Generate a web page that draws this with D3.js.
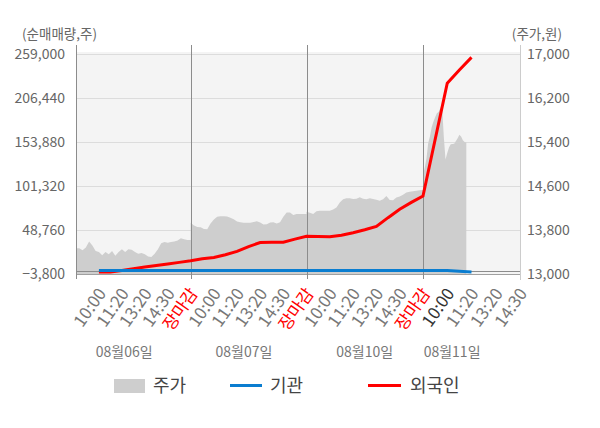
<!DOCTYPE html>
<html>
<head>
<meta charset="utf-8">
<script src="https://cdn.jsdelivr.net/npm/d3@7"></script>
<style>
  body { margin: 0; background: #fff; }
  svg { display: block; font-family: "Noto Sans CJK KR", "Noto Sans", sans-serif; }
</style>
</head>
<body>
<svg id="chart" width="600" height="428"></svg>
<script>
// ---- data ----
const days = ["08월06일", "08월07일", "08월10일", "08월11일"];
const tickTimes = ["10:00", "11:20", "13:20", "14:30", "장마감"];
const leftTicks = [-3800, 48760, 101320, 153880, 206440, 259000];
const rightTicks = [13000, 13800, 14600, 15400, 16200, 17000];

// 주가 (원), sampled evenly over each day
const price0806 = [13470, 13470, 13430, 13480, 13590, 13520, 13420, 13400, 13340, 13400,
  13360, 13420, 13330, 13400, 13450, 13400, 13450, 13440, 13400, 13370,
  13380, 13360, 13320, 13310, 13370, 13450, 13560, 13580, 13570, 13580,
  13590, 13610, 13650, 13630, 13620, 13620];
const price0807 = [13930, 13880, 13855, 13850, 13820, 13812, 13920, 13990, 14040, 14050,
  14050, 14045, 14025, 13995, 13955, 13940, 13930, 13930, 13930, 13945,
  13960, 13935, 13900, 13905, 13935, 13940, 13920, 13940, 14040, 14120,
  14120, 14075, 14090, 14090, 14090, 14090];
const price0810 = [14130, 14115, 14090, 14140, 14150, 14150, 14150, 14150, 14175, 14210,
  14300, 14360, 14376, 14376, 14365, 14370, 14394, 14370, 14360, 14376,
  14365, 14350, 14333, 14358, 14420, 14345, 14340, 14390, 14410, 14440,
  14480, 14497, 14505, 14515, 14525, 14527];
const price0811 = [14800, 14930, 15100, 15380, 15500, 15670, 15770, 15850, 15925, 15945,
  16020, 16070, 15500, 15080, 15200, 15300, 15358, 15365, 15370, 15420,
  15470, 15530, 15500, 15430, 15400, 15390];

// 순매매량 (주), cumulative, at axis slots (5 slots per day)
const flowSlots = [1, 1.5, 2, 2.5, 3, 3.5, 4, 4.5, 5,
  5.5, 6, 6.5, 7, 7.5, 8, 8.5, 9, 9.5, 10,
  10.5, 11, 11.5, 12, 12.5, 13, 13.5, 14, 14.5, 15,
  16, 16.5, 17];
const foreign = [-1400, -1400, 300, 2500, 4500, 6300, 8200, 10100, 12000,
  14300, 16000, 19200, 23300, 29000, 33700, 34100, 34100, 37800, 41300,
  40900, 40800, 42500, 45500, 49000, 53000, 63500, 73500, 81700, 89400,
  224000, 240000, 255000];
const institution = [500, 500, 500, 500, 500, 500, 500, 500, 500,
  500, 500, 500, 500, 500, 500, 500, 500, 500, 500,
  500, 500, 500, 500, 500, 500, 500, 500, 500, 500,
  500, -500, -1400];

// ---- layout ----
const svg = d3.select("#chart");
const pLeft = 76, pRight = 520, pTop = 54, pBottom = 274;

const x = d3.scaleLinear().domain([0, 5, 10, 15, 19]).range([pLeft, 190.7, 306.5, 423, pRight]);
const yL = d3.scaleLinear().domain([leftTicks[0], leftTicks[5]]).range([pBottom, pTop]);
const yR = d3.scaleLinear().domain([rightTicks[0], rightTicks[5]]).range([pBottom, pTop]);
const fmt = d3.format(",");

// build price points with slot positions
const pricePts = [];
[price0806, price0807, price0810].forEach((arr, d) => {
  arr.forEach((v, i) => pricePts.push([d * 5 + i * 5 / (arr.length - 1), v]));
});
price0811.forEach((v, i) => pricePts.push([15 + i / 14, v]));

// plot background
svg.append("rect")
  .attr("x", pLeft).attr("y", pTop - 2)
  .attr("width", pRight - pLeft).attr("height", pBottom - pTop + 2)
  .attr("fill", "#f4f4f4");

// horizontal grid
svg.append("g").selectAll("line")
  .data(leftTicks.slice(1))
  .join("line")
  .attr("x1", pLeft).attr("x2", pRight)
  .attr("y1", d => Math.round(yL(d)) + 0.5).attr("y2", d => Math.round(yL(d)) + 0.5)
  .attr("stroke", "#dcdcdc");

// price area
const area = d3.area()
  .x(d => x(d[0]))
  .y0(pBottom)
  .y1(d => yR(d[1]));
svg.append("path")
  .datum(pricePts)
  .attr("d", area)
  .attr("fill", "#cecece");

// zero line and bottom line
svg.append("line")
  .attr("x1", pLeft).attr("x2", pRight)
  .attr("y1", Math.round(yL(0)) + 0.5).attr("y2", Math.round(yL(0)) + 0.5)
  .attr("stroke", "#8c8c8c");
svg.append("line")
  .attr("x1", pLeft).attr("x2", pRight)
  .attr("y1", pBottom + 0.5).attr("y2", pBottom + 0.5)
  .attr("stroke", "#a0a0a0");

// day separators and left axis line
svg.append("g").selectAll("line")
  .data([0, 5, 10, 15])
  .join("line")
  .attr("x1", d => Math.round(x(d)) + 0.5).attr("x2", d => Math.round(x(d)) + 0.5)
  .attr("y1", 45).attr("y2", pBottom + 5)
  .attr("stroke", "#8c8c8c");
// right axis line
svg.append("line")
  .attr("x1", pRight + 0.5).attr("x2", pRight + 0.5)
  .attr("y1", 45).attr("y2", pBottom + 6)
  .attr("stroke", "#cccccc");

// series lines (기관 drawn over 외국인, as in the source)
const line = d3.line().x(d => x(d[0])).y(d => yL(d[1]));
svg.append("path")
  .datum(flowSlots.map((s, i) => [s, foreign[i]]))
  .attr("d", line)
  .attr("fill", "none")
  .attr("stroke", "#ff0000")
  .attr("stroke-width", 3);
svg.append("path")
  .datum(flowSlots.map((s, i) => [s, institution[i]]))
  .attr("d", line)
  .attr("fill", "none")
  .attr("stroke", "#0a7dd0")
  .attr("stroke-width", 3);

// left axis labels
const gL = svg.append("g")
  .attr("transform", `translate(${pLeft - 11},0)`)
  .call(d3.axisLeft(yL).tickValues(leftTicks).tickFormat(fmt).tickSize(0).tickPadding(0));
gL.select(".domain").remove();
gL.selectAll("text")
  .attr("font-size", 14).attr("fill", "#666")
  .attr("font-family", "'Noto Sans CJK KR', sans-serif");

// right axis labels
const gR = svg.append("g")
  .attr("transform", `translate(${pRight + 7},0)`)
  .call(d3.axisRight(yR).tickValues(rightTicks).tickFormat(fmt).tickSize(0).tickPadding(0));
gR.select(".domain").remove();
gR.selectAll("text")
  .attr("font-size", 14).attr("fill", "#666")
  .attr("font-family", "'Noto Sans CJK KR', sans-serif");

// axis titles
svg.append("text")
  .attr("x", 22).attr("y", 39)
  .attr("font-size", 13.5).attr("fill", "#666")
  .text("(순매매량,주)");
svg.append("text")
  .attr("x", 562).attr("y", 39)
  .attr("text-anchor", "end")
  .attr("font-size", 13.5).attr("fill", "#666")
  .text("(주가,원)");

// x tick labels
const xLabels = [];
days.forEach((dname, d) => {
  const n = d === days.length - 1 ? 4 : 5;
  for (let k = 1; k <= n; k++) xLabels.push({ slot: d * 5 + k, text: tickTimes[k - 1], day: d, k });
});
svg.append("g").selectAll("text")
  .data(xLabels)
  .join("text")
  .attr("transform", d => `translate(${x(d.slot) + 3},290) rotate(-55)`)
  .attr("text-anchor", "end")
  .attr("dy", "0.35em")
  .attr("font-size", 17)
  .attr("fill", d => d.k === 5 ? "#ff0000" : (d.day === 3 && d.k === 1 ? "#333" : "#777"))
  .text(d => d.text);

// date labels
const dayCenters = [2.1, 7.3, 12.5, 16.2];
svg.append("g").selectAll("text")
  .data(days)
  .join("text")
  .attr("x", (d, i) => x(dayCenters[i]))
  .attr("y", 357)
  .attr("text-anchor", "middle")
  .attr("font-size", 14)
  .attr("fill", "#777")
  .text(d => d);

// legend
const lg = svg.append("g").attr("font-size", 18).attr("fill", "#444");
lg.append("rect").attr("x", 114).attr("y", 379).attr("width", 31).attr("height", 14).attr("fill", "#cecece");
lg.append("text").attr("x", 153).attr("y", 386).attr("dy", "0.35em").text("주가");
lg.append("line").attr("x1", 230).attr("x2", 262).attr("y1", 385.5).attr("y2", 385.5)
  .attr("stroke", "#0a7dd0").attr("stroke-width", 3);
lg.append("text").attr("x", 270).attr("y", 386).attr("dy", "0.35em").text("기관");
lg.append("line").attr("x1", 368).attr("x2", 401).attr("y1", 385.5).attr("y2", 385.5)
  .attr("stroke", "#ff0000").attr("stroke-width", 3);
lg.append("text").attr("x", 410).attr("y", 386).attr("dy", "0.35em").text("외국인");
</script>
</body>
</html>
